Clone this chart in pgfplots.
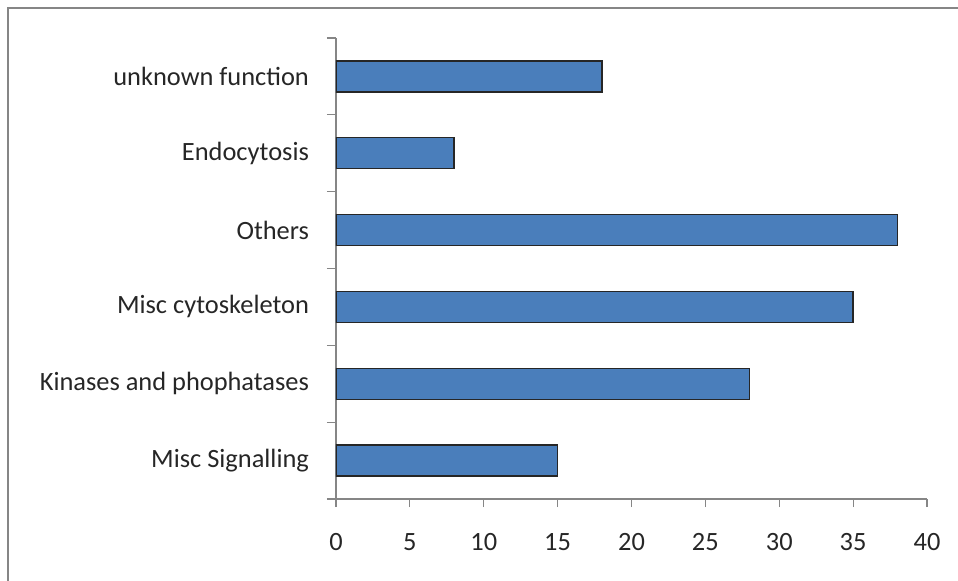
\documentclass[border=0pt]{standalone}
\usepackage{fontspec}
\setmainfont{Carlito}
\usepackage{pgfplots}
\pgfplotsset{compat=1.18}
\definecolor{barblue}{RGB}{74,126,187}
\definecolor{axgray}{RGB}{134,134,134}
\begin{document}
\fontsize{13pt}{15pt}\selectfont
\begin{tikzpicture}
\useasboundingbox (0,0) rectangle (479pt,290pt);
\draw[color=axgray, line width=1.1pt] (4pt,-1pt) -- (4pt,286pt) -- (480pt,286pt);
\begin{axis}[
 at={(168pt,40.5pt)}, anchor=south west,
 scale only axis, width=295.5pt, height=230.5pt,
 xbar, bar width=15.5pt,
 xmin=0, xmax=40, ymin=0.5, ymax=6.5,
 enlarge y limits=false,
 axis lines*=left,
 axis line style={axgray, line width=0.6pt},
 xtick={0,5,...,40}, ytick={1,...,6},
 yticklabels={Misc Signalling, Kinases and phophatases, Misc cytoskeleton, Others, Endocytosis, unknown function},
 minor ytick={0.5,1.5,...,6.5},
 tick align=outside, major tick length=4pt, minor tick length=4.5pt,
 tick style={axgray, line width=0.6pt},
 major y tick style={draw=none},
 ticklabel style={text=black!85, font=\fontsize{13.2pt}{15pt}\selectfont},
 /pgf/number format/assume math mode=true,
 yticklabel style={xshift=-5pt},
 xticklabel style={yshift=-8.5pt},
]
\addplot[fill=barblue, draw=black!85, line width=0.7pt] coordinates {(15,1) (28,2) (35,3) (38,4) (8,5) (18,6)};
\end{axis}
\end{tikzpicture}
\end{document}
